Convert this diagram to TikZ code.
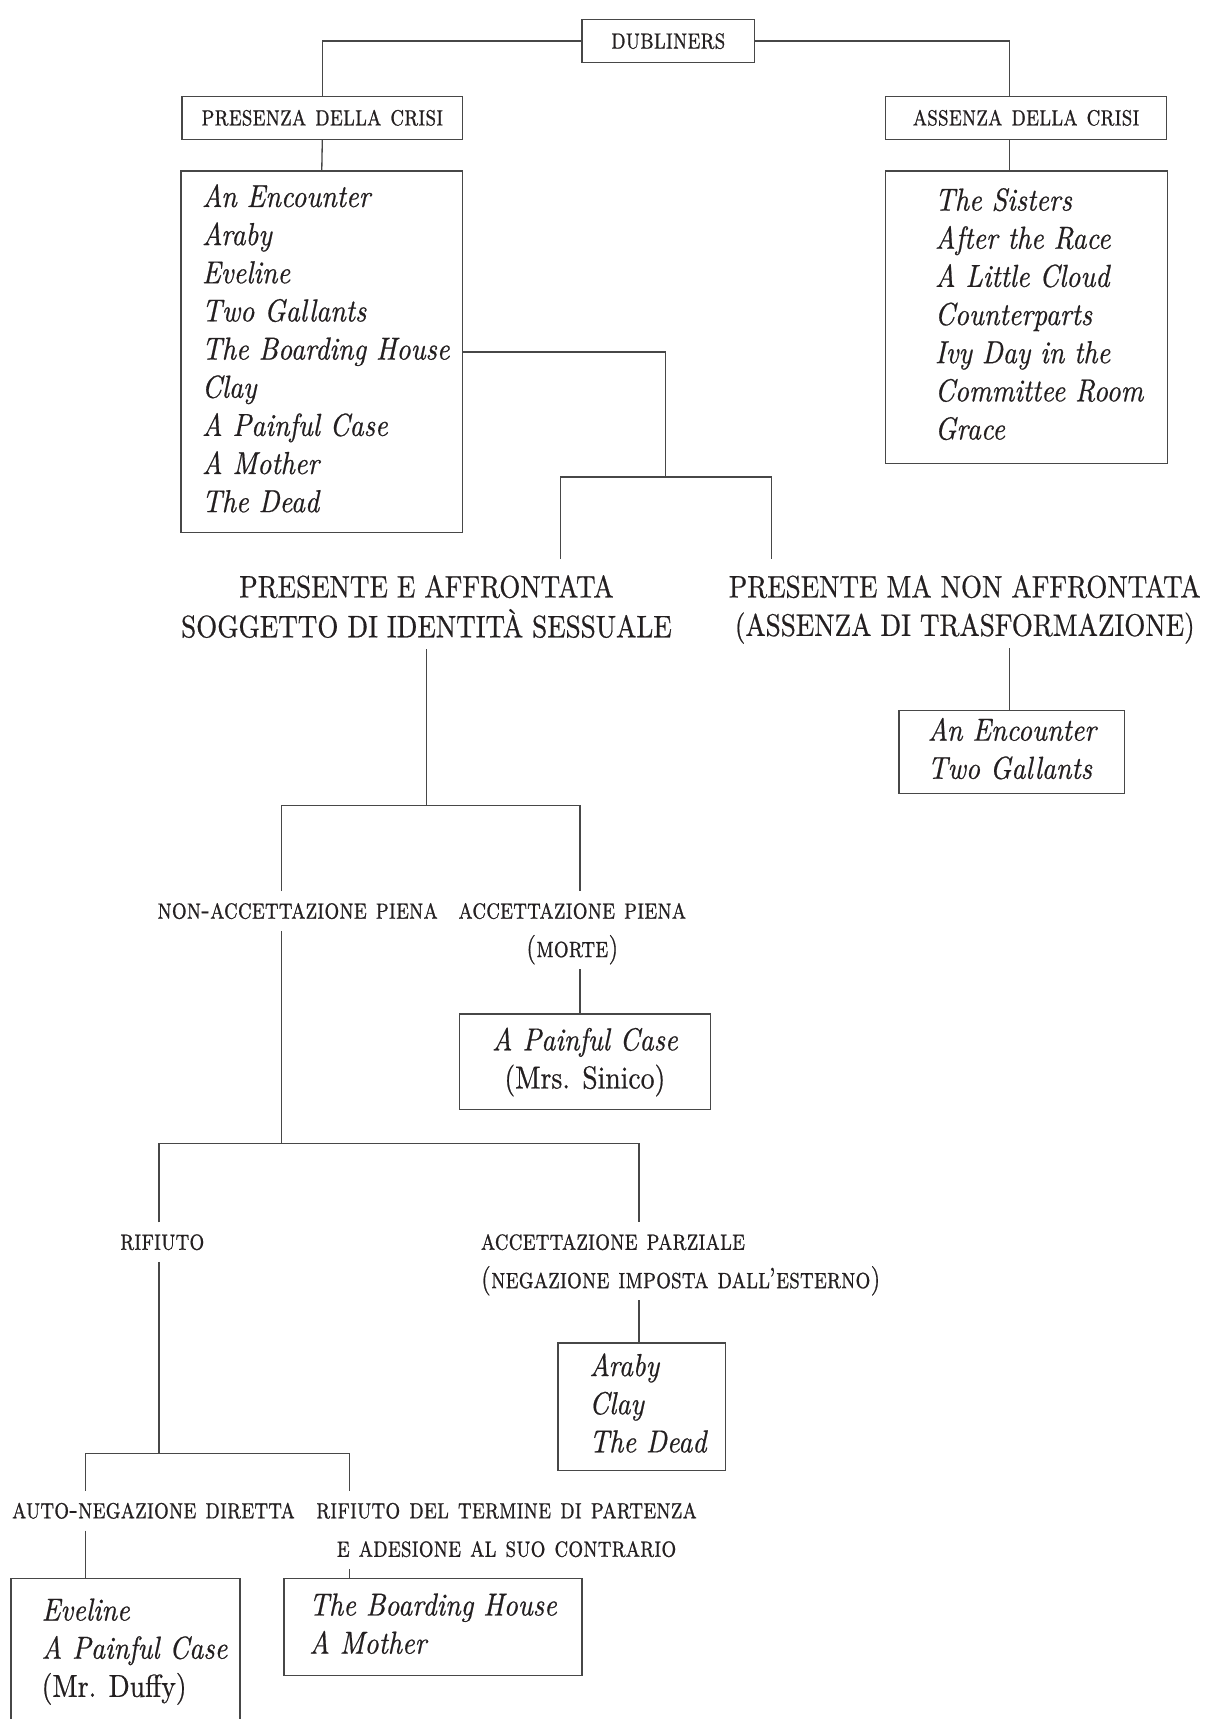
\documentclass[tikz,border=0pt]{standalone}
\usepackage{fontspec}
\newfontfamily\capfont{lmroman10-regular.otf}[FakeStretch=0.87,FakeBold=0.6]
\newfontfamily\titfont{lmroman10-italic.otf}[FakeStretch=0.87,FakeBold=0.6]
\newfontfamily\scfont{lmromancaps10-regular.otf}[FakeStretch=0.8,FakeBold=0.6]
\definecolor{ink}{HTML}{231F20}
\definecolor{rule}{HTML}{474747}
\newcommand{\tcol}[2][l]{\begin{tabular}[t]{@{}#1@{}}#2\end{tabular}}
\newcommand{\tlist}[2][0pt]{\hspace*{#1}\tcol{#2}}
\begin{document}
\begin{tikzpicture}[x=0.5pt,y=-0.5pt,color=rule,line width=0.6pt,
    every node/.style={text=ink,inner sep=0pt},
    scbox/.style={draw,minimum height=19.5pt,font=\scfont\fontsize{13.4}{17.5}\selectfont},
    listbox/.style={draw,font=\titfont\fontsize{14.5}{17.4}\selectfont},
    sclabel/.style={font=\scfont\fontsize{13.4}{17.5}\selectfont},
    biglabel/.style={font=\capfont\fontsize{14.2}{17.5}\selectfont}]
  \useasboundingbox (0,0) rectangle (1102,1568);
  \coordinate (rx) at (921,0);
  \coordinate (b1) at (607,435);
  \coordinate (b2) at (389,735);
  \coordinate (b3) at (257,1043);
  \coordinate (b4) at (145,1326);
  \coordinate (fa top) at (511,510);
  \coordinate (nfa top) at (704,510);
  \coordinate (ps top) at (529,925);
  \coordinate (acd top) at (583,1225);
  \coordinate (ev top) at (78,1440);
  \coordinate (bh top) at (319,1440);

  \node[scbox,minimum width=78.5pt] (dub) at (609.5,37.5) {dubliners};
  \node[scbox,minimum width=128pt] (pres) at (294,107.5) {presenza della crisi};
  \node[scbox,minimum width=128pt] (abs) at (936,107.5) {assenza della crisi};
  \node[listbox,minimum width=128.5pt,minimum height=165pt] (crisis) at (293.5,321)
    {\tlist[3.7pt]{An Encounter\\Araby\\Eveline\\Two Gallants\\The Boarding House\\Clay\\A Painful Case\\A Mother\\The Dead}};
  \node[listbox,minimum width=128.5pt,minimum height=133.5pt] (calm) at (936.5,289.5)
    {\tlist[11.4pt]{The Sisters\\After the Race\\A Little Cloud\\Counterparts\\Ivy Day in the\\Committee Room\\Grace}};

  \node[biglabel,anchor=base] (faced) at (389,545)
    {\tcol[c]{PRESENTE E AFFRONTATA\\SOGGETTO DI IDENTITÀ SESSUALE}};
  \node[biglabel,anchor=base] (unfaced) at (880,545)
    {\tcol[c]{PRESENTE MA NON AFFRONTATA\\(ASSENZA DI TRASFORMAZIONE)}};
  \node[listbox,minimum width=103pt,minimum height=38pt] (enc2) at (923,686)
    {\tlist{An Encounter\\Two Gallants}};

  \node[sclabel,anchor=base] (na) at (271.5,838) {\tcol{non-accettazione piena}};
  \node[sclabel,anchor=base] (ap) at (522,838) {\tcol[c]{accettazione piena\\(morte)}};
  \node[listbox,minimum width=114.5pt,minimum height=43.5pt] (ps) at (533.5,968.5)
    {\tcol[c]{A Painful Case\\{\capfont (Mrs. Sinico)}}};

  \node[sclabel,anchor=base] (rif) at (148,1140) {\tcol{rifiuto}};
  \node[sclabel,anchor=base west] (apz) at (438,1140)
    {\tcol{accettazione parziale\\(negazione imposta dall’esterno)}};
  \node[listbox,minimum width=76.5pt,minimum height=58pt] (acd) at (585.5,1283)
    {\tlist[5.5pt]{Araby\\Clay\\The Dead}};

  \node[sclabel,anchor=base] (an) at (140,1385) {\tcol{auto-negazione diretta}};
  \node[sclabel,anchor=base] (rdt) at (462,1385)
    {\tcol[c]{rifiuto del termine di partenza\\e adesione al suo contrario}};
  \node[listbox,minimum width=104.5pt,minimum height=66pt] (ev) at (114.5,1506)
    {\tlist[8.2pt]{Eveline\\A Painful Case\\{\capfont (Mr. Duffy)}}};
  \node[listbox,minimum width=136pt,minimum height=44pt] (bh) at (395,1484)
    {\tlist{The Boarding House\\A Mother}};

  \draw (dub.west) -| (pres.north);
  \draw (pres.south) -- (crisis.north);
  \draw (dub.east) -| (abs.north -| rx);
  \draw (abs.south -| rx) -- (calm.north -| rx);
  \draw (crisis.east) -| (b1);
  \draw (fa top) |- (b1) -| (nfa top);
  \draw (unfaced.south -| rx) -- (enc2.north -| rx);
  \draw (faced.south) -- (b2);
  \draw (na.north -| b3) |- (b2) -| (ap.north -| ps top);
  \draw (ap.south -| ps top) -- (ps top);
  \draw (na.south -| b3) -- (b3);
  \draw (rif.north -| b4) |- (b3) -| (apz.north -| acd top);
  \draw (apz.south -| acd top) -- (acd top);
  \draw (rif.south -| b4) -- (b4);
  \draw (an.north -| ev top) |- (b4) -| (rdt.north -| bh top);
  \draw (an.south -| ev top) -- (ev top);
  \draw (rdt.south -| bh top) -- (bh top);
\end{tikzpicture}
\end{document}
